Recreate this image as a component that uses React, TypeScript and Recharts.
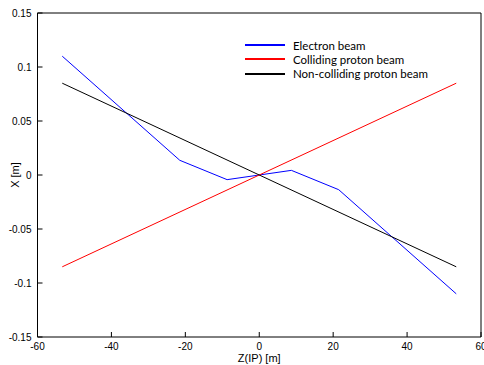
import React from 'react';
import { LineChart, Line, XAxis, YAxis, Legend } from 'recharts';

const electronZ = [-53.3, -21.5, -8.7, 0, 8.7, 21.5, 53.3];
const electronX = [0.11, 0.0136, -0.0043, 0, 0.0043, -0.0136, -0.11];
const collidingZ = [-53.3, 53.3];
const collidingX = [-0.085, 0.085];
const nonCollidingZ = [-53.3, 53.3];
const nonCollidingX = [0.085, -0.085];

const xTicks = [-60, -40, -20, 0, 20, 40, 60];
const yTicks = [-0.15, -0.1, -0.05, 0, 0.05, 0.1, 0.15];

const seriesNames = ['Electron beam', 'Colliding proton beam', 'Non-colliding proton beam'];
const seriesColors = ['#0000ff', '#ff0000', '#000000'];

const toRows = (zs: number[], xs: number[]) => zs.map((z, i) => ({ z, x: xs[i] }));
const electronData = toRows(electronZ, electronX);
const collidingData = toRows(collidingZ, collidingX);
const nonCollidingData = toRows(nonCollidingZ, nonCollidingX);

const tickFont = { fontFamily: 'Liberation Sans, Arial, sans-serif', fontSize: 10, fill: '#000' };

const LegendBox = () => (
  <div style={{ fontFamily: 'Lato, sans-serif', fontSize: 11.5, color: '#000' }}>
    {seriesNames.map((name, i) => (
      <div key={i} style={{ display: 'flex', alignItems: 'center', height: 14.3, whiteSpace: 'nowrap' }}>
        <span style={{ display: 'inline-block', width: 40, height: 2, background: seriesColors[i], marginRight: 8 }} />
        <span>{name}</span>
      </div>
    ))}
  </div>
);

export default function App() {
  return (
    <div style={{ position: 'absolute', left: 0, top: 0, background: '#fff' }}>
      <LineChart width={484} height={365} margin={{ top: 12, right: 2, left: 0, bottom: 0 }}>
        <XAxis
          dataKey="z"
          type="number"
          domain={[-60, 60]}
          ticks={xTicks}
          interval={0}
          height={28}
          tickSize={-5}
          tickMargin={11}
          tick={tickFont}
          stroke="#000"
          allowDataOverflow
          label={{ value: 'Z(IP) [m]', position: 'insideBottom', offset: 3, style: { fontFamily: 'Liberation Sans, Arial, sans-serif', fontSize: 11, fill: '#000' } }}
        />
        <XAxis
          xAxisId="top"
          orientation="top"
          type="number"
          domain={[-60, 60]}
          ticks={xTicks}
          interval={0}
          height={1}
          tickSize={-5}
          tick={false}
          stroke="#000"
        />
        <YAxis
          type="number"
          domain={[-0.15, 0.15]}
          ticks={yTicks}
          interval={0}
          width={37.5}
          tickSize={-5}
          tickMargin={11}
          tick={tickFont}
          tickFormatter={(v: number) => String(Number(v.toFixed(2)))}
          stroke="#000"
          allowDataOverflow
          label={{ value: 'X [m]', angle: -90, position: 'insideLeft', offset: 15, style: { textAnchor: 'middle', fontFamily: 'Liberation Sans, Arial, sans-serif', fontSize: 11, fill: '#000' } }}
        />
        <YAxis
          yAxisId="right"
          orientation="right"
          type="number"
          domain={[-0.15, 0.15]}
          ticks={yTicks}
          interval={0}
          width={1}
          tickSize={-5}
          tick={false}
          stroke="#000"
        />
        <Legend
          layout="vertical"
          align="center"
          verticalAlign="middle"
          content={<LegendBox />}
          wrapperStyle={{ left: 245, top: 38, width: 200 }}
        />
        <Line data={electronData} dataKey="x" name={seriesNames[0]} stroke={seriesColors[0]} strokeWidth={1} dot={false} isAnimationActive={false} />
        <Line data={collidingData} dataKey="x" name={seriesNames[1]} stroke={seriesColors[1]} strokeWidth={1} dot={false} isAnimationActive={false} />
        <Line data={nonCollidingData} dataKey="x" name={seriesNames[2]} stroke={seriesColors[2]} strokeWidth={1} dot={false} isAnimationActive={false} />
      </LineChart>
    </div>
  );
}
